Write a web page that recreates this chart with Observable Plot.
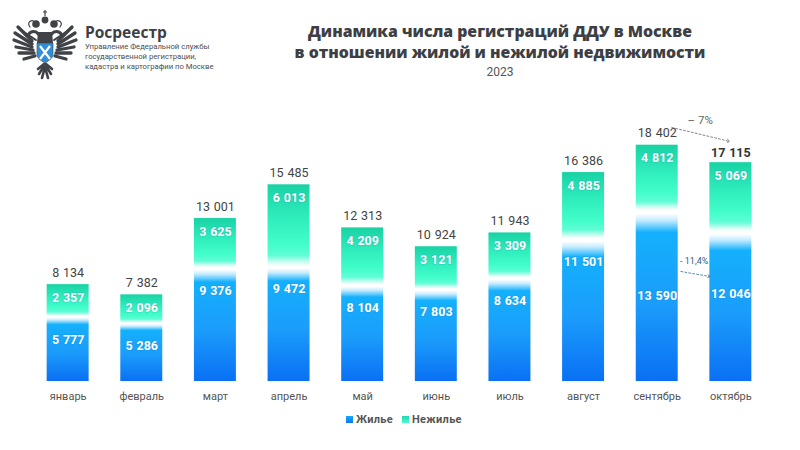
<!DOCTYPE html>
<html lang="ru">
<head>
<meta charset="utf-8">
<script src="https://cdn.jsdelivr.net/npm/d3@7"></script>
<script src="https://cdn.jsdelivr.net/npm/@observablehq/plot@0.6"></script>
<style>
html,body{margin:0;padding:0;background:#fff;width:800px;height:450px;overflow:hidden;font-family:"Roboto",sans-serif}
#page{position:relative;width:800px;height:450px}
#head{position:relative;height:100px}
#head div{position:absolute;white-space:nowrap}
#brand{left:85px;top:21px;font:700 15.5px "Open Sans",sans-serif;color:#3c3f44}
.sub{left:85px;font:400 7.7px/10px "Roboto",sans-serif;color:#4a4d52}
.ttl{left:200px;width:600px;text-align:center;font:800 15.8px "Open Sans",sans-serif;color:#3d3f44}
#yr{left:200px;width:600px;text-align:center;font:400 12px "Roboto",sans-serif;color:#555;top:65px}
#logo{position:absolute;left:0;top:0}
#legend{position:absolute;left:346px;top:413px;display:flex;align-items:center;font:700 11px "Roboto",sans-serif;color:#555;letter-spacing:.3px}
#legend i{display:inline-block;width:7px;height:7px;margin-right:3px}
#legend span{margin-right:9px}
</style>
</head>
<body>
<div id="page">
<div id="head">
<svg id="logo" width="90" height="90" viewBox="0 0 90 90">
<defs>
<g id="half" fill="none" stroke="#3f4246" stroke-linecap="round">
<g stroke-width="3.3">
<path d="M18 27L32 41"/><path d="M15 33L32 44"/><path d="M14 40L32 47"/><path d="M16 47L33 50"/><path d="M19 53L34 53"/><path d="M24 59L35 56"/>
</g>
<path d="M18 27C24 33 30 36 36 40" stroke-width="2"/>
<path d="M42 42C40 38 40 34 36 32C33 31 30 32 28 35" stroke-width="3"/>
<path d="M30 27C26 22 32 19 35 22" stroke-width="1.2"/>
<circle cx="36" cy="24" r="3.8" fill="#3f4246" stroke="none"/>
<path d="M44 64L38 69M44 66L39 74M45 67L42 78" stroke-width="2.6"/>
</g>
</defs>
<use href="#half"/>
<use href="#half" transform="translate(90,0) scale(-1,1)"/>
<circle cx="45" cy="20" r="3.4" fill="#3f4246"/>
<path d="M45 10V16M43 12H47" stroke="#3f4246" stroke-width="1.2"/>
<path d="M38 32H52L53 43H37Z" fill="#3f4246"/>
<path d="M37 43H53V54C53 59 48 61 45 63C42 61 37 59 37 54Z" fill="#2f8fd8" stroke="#3f4246" stroke-width=".6"/>
<path d="M40 46L50 59M50 46L40 59" stroke="#fff" stroke-width="2.2"/>
</svg>
<div id="brand">Росреестр</div>
<div class="sub" style="top:42px">Управление Федеральной службы<br>государственной регистрации,<br>кадастра и картографии по Москве</div>
<div class="ttl" style="top:20px">Динамика числа регистраций ДДУ в Москве</div>
<div class="ttl" style="top:41px">в отношении жилой и нежилой недвижимости</div>
<div id="yr">2023</div>
</div>
<div id="chart"></div>
<div id="legend"><i style="background:linear-gradient(#18a8fb,#0a78f0)"></i><span>Жилье</span><i style="background:linear-gradient(#22d6ae,#50fbd2)"></i><span style="margin:0">Нежилье</span></div>
</div>
<script>
const months = ["январь","февраль","март","апрель","май","июнь","июль","август","сентябрь","октябрь"];
const housing = [5777,5286,9376,9472,8104,7803,8634,11501,13590,12046];
const nonHousing = [2357,2096,3625,6013,4209,3121,3309,4885,4812,5069];
const totals = [8134,7382,13001,15485,12313,10924,11943,16386,18402,17115];
const changeTotal = "– 7%";
const changeHousing = "- 11,4%";

const rows = months.map((month,i)=>({month,housing:housing[i],nonHousing:nonHousing[i],total:totals[i]}));
const fmt = v => String(v).replace(/\B(?=(\d{3})+$)/g,"\u2009\u200a");
const ns = "http://www.w3.org/2000/svg";
function grad(id,stops){
  const g = document.createElementNS(ns,"linearGradient");
  g.setAttribute("id",id);g.setAttribute("x1","0");g.setAttribute("x2","0");g.setAttribute("y1","0");g.setAttribute("y2","1");
  for(const [o,c] of stops){const s=document.createElementNS(ns,"stop");s.setAttribute("offset",o);s.setAttribute("stop-color",c);g.appendChild(s);}
  return g;
}
const defs = () => {
  const d = document.createElementNS(ns,"defs");
  d.appendChild(grad("gB",[[0,"#ffffff"],[.02,"#ffffff"],[.06,"#c4ecff"],[.13,"#14b0fc"],[.55,"#1b9cfb"],[1,"#0a70f4"]]));
  d.appendChild(grad("gT",[[0,"#18d2a3"],[.4,"#2fecbc"],[.72,"#40fdc9"],[.87,"#60fdd6"],[.95,"#c8fff0"],[1,"#ffffff"]]));
  return d;
};
const white = {fill:"#fff",fontWeight:700,fontSize:12.5,fontFamily:"Roboto",letterSpacing:.5,stroke:"#0b6fb0",strokeOpacity:.18,strokeWidth:1.5};
const isLate = d => d.month==="сентябрь"||d.month==="октябрь";

const plot = Plot.plot({
  width:800,height:305,marginTop:23,marginBottom:24,marginLeft:15,marginRight:17,
  style:{background:"transparent",fontFamily:"Roboto"},
  x:{domain:months,padding:.43,round:false,label:null},
  y:{domain:[1000,20000],clamp:true,axis:null},
  marks:[
    defs,
    Plot.barY(rows,{x:"month",y1:()=>0,y2:"housing",fill:"url(#gB)"}),
    Plot.barY(rows,{x:"month",y1:"housing",y2:"total",fill:"url(#gT)"}),
    Plot.text(rows,{x:"month",y:"total",text:d=>fmt(d.nonHousing),dy:13,...white}),
    Plot.text(rows.filter(d=>!isLate(d)),{x:"month",y:"housing",text:d=>fmt(d.housing),dy:23,...white}),
    Plot.text(rows.filter(d=>d.month==="сентябрь"),{x:"month",y:"housing",text:d=>fmt(d.housing),dy:85,...white}),
    Plot.text(rows.filter(d=>d.month==="октябрь"),{x:"month",y:"housing",text:d=>fmt(d.housing),dy:62,...white}),
    Plot.text(rows.filter(d=>d.month!=="октябрь"),{x:"month",y:"total",text:d=>fmt(d.total),dy:-12,fontSize:12.5,fill:"#444",fontFamily:"Roboto"}),
    Plot.text(rows.filter(d=>d.month==="октябрь"),{x:"month",y:"total",text:d=>fmt(d.total),dy:-10,fontSize:12.5,fontWeight:700,fill:"#333",fontFamily:"Roboto"}),
    Plot.arrow([{a:"сентябрь",b:"октябрь",v1:19968,v2:18658}],{x1:"a",x2:"b",y1:"v1",y2:"v2",insetStart:15,insetEnd:1,bend:0,stroke:"#667",strokeWidth:.8,strokeDasharray:"2 2",headLength:6}),
    Plot.arrow([{a:"сентябрь",b:"октябрь",v1:9402,v2:8467}],{x1:"a",x2:"b",y1:"v1",y2:"v2",insetStart:24,insetEnd:21,bend:0,stroke:"#3a6f99",strokeWidth:.8,strokeDasharray:"2 2",headLength:5}),
    Plot.text([changeTotal],{x:()=>"сентябрь",y:()=>20000,text:d=>d,dx:43,dy:-3,fontSize:11.5,fill:"#666",fontFamily:"Roboto"}),
    Plot.text([changeHousing],{x:()=>"сентябрь",y:()=>9836,text:d=>d,dx:37,fontSize:9,fill:"#2f5f86",fontFamily:"Roboto"}),
    Plot.axisX({tickSize:0,tickPadding:11,fontSize:11,fill:"#555",label:null,fontFamily:"Roboto",letterSpacing:.3})
  ]
});
document.getElementById("chart").appendChild(plot);
</script>
</body>
</html>
